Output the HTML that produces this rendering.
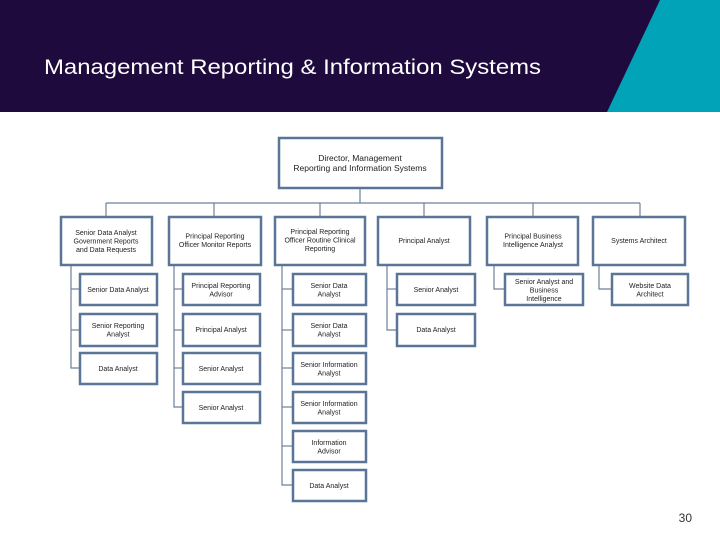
<!DOCTYPE html>
<html><head><meta charset="utf-8"><style>
html,body{margin:0;padding:0;background:#fff}
svg{display:block}
text{font-family:"Liberation Sans",sans-serif;fill:#222}
</style></head><body>
<svg width="720" height="540" viewBox="0 0 720 540" xmlns="http://www.w3.org/2000/svg">
<rect x="0" y="0" width="720" height="112" fill="#1e0a3c"/>
<polygon points="660,0 720,0 720,112 607,112" fill="#00a3b8"/>
<text x="44" y="74" font-size="21" textLength="497" lengthAdjust="spacingAndGlyphs" style="fill:#fff">Management Reporting &amp; Information Systems</text>
<text x="692" y="522" font-size="12" text-anchor="end" style="fill:#333">30</text>

<g stroke="#6d8199" stroke-width="1.2" fill="none">
<line x1="360" y1="188" x2="360" y2="203"/>
<line x1="106" y1="203" x2="640" y2="203"/>
<line x1="106" y1="203" x2="106" y2="216"/>
<line x1="214" y1="203" x2="214" y2="216"/>
<line x1="320" y1="203" x2="320" y2="216"/>
<line x1="424" y1="203" x2="424" y2="216"/>
<line x1="533" y1="203" x2="533" y2="216"/>
<line x1="640" y1="203" x2="640" y2="216"/>
<polyline points="71,265 71,368 79,368"/><line x1="71" y1="289" x2="79" y2="289"/><line x1="71" y1="330" x2="79" y2="330"/>
<polyline points="174,265 174,407 183,407"/><line x1="174" y1="289" x2="183" y2="289"/><line x1="174" y1="330" x2="183" y2="330"/><line x1="174" y1="368" x2="183" y2="368"/>
<polyline points="282,265 282,485 292,485"/><line x1="282" y1="289" x2="292" y2="289"/><line x1="282" y1="330" x2="292" y2="330"/><line x1="282" y1="368" x2="292" y2="368"/><line x1="282" y1="407" x2="292" y2="407"/><line x1="282" y1="446" x2="292" y2="446"/>
<polyline points="387,265 387,330 397,330"/><line x1="387" y1="289" x2="397" y2="289"/>
<polyline points="494,265 494,289 505,289"/>
<polyline points="599,265 599,289 612,289"/>
</g>

<g stroke="#5b7596" stroke-width="2.5" fill="#fff">
<rect x="279" y="138" width="163" height="50"/>
<rect x="61" y="217" width="91" height="48"/>
<rect x="169" y="217" width="92" height="48"/>
<rect x="275" y="217" width="90" height="48"/>
<rect x="378" y="217" width="92" height="48"/>
<rect x="487" y="217" width="91" height="48"/>
<rect x="593" y="217" width="92" height="48"/>

<rect x="80" y="274" width="77" height="31"/>
<rect x="80" y="314" width="77" height="32"/>
<rect x="80" y="353" width="77" height="31"/>

<rect x="183" y="274" width="77" height="31"/>
<rect x="183" y="314" width="77" height="32"/>
<rect x="183" y="353" width="77" height="31"/>
<rect x="183" y="392" width="77" height="31"/>

<rect x="293" y="274" width="73" height="31"/>
<rect x="293" y="314" width="73" height="32"/>
<rect x="293" y="353" width="73" height="31"/>
<rect x="293" y="392" width="73" height="31"/>
<rect x="293" y="431" width="73" height="31"/>
<rect x="293" y="470" width="73" height="31"/>

<rect x="397" y="274" width="78" height="31"/>
<rect x="397" y="314" width="78" height="32"/>

<rect x="505" y="274" width="78" height="31"/>
<rect x="612" y="274" width="76" height="31"/>
</g>

<g font-size="7" text-anchor="middle">
<text x="360" y="161" font-size="8.5">Director, Management</text>
<text x="360" y="171" font-size="8.5">Reporting and Information Systems</text>

<text x="106" y="235">Senior Data Analyst</text>
<text x="106" y="243.5">Government Reports</text>
<text x="106" y="252">and Data Requests</text>

<text x="215" y="238.5">Principal Reporting</text>
<text x="215" y="247">Officer Monitor Reports</text>

<text x="320" y="234">Principal Reporting</text>
<text x="320" y="242.5">Officer Routine Clinical</text>
<text x="320" y="251">Reporting</text>

<text x="424" y="243">Principal Analyst</text>

<text x="533" y="238.5">Principal Business</text>
<text x="533" y="247">Intelligence Analyst</text>

<text x="639" y="243">Systems Architect</text>

<text x="118" y="292">Senior Data Analyst</text>
<text x="118" y="328">Senior Reporting</text>
<text x="118" y="336.5">Analyst</text>
<text x="118" y="371">Data Analyst</text>

<text x="221" y="288">Principal Reporting</text>
<text x="221" y="296.5">Advisor</text>
<text x="221" y="332">Principal Analyst</text>
<text x="221" y="371">Senior Analyst</text>
<text x="221" y="410">Senior Analyst</text>

<text x="329" y="288">Senior Data</text>
<text x="329" y="296.5">Analyst</text>
<text x="329" y="328">Senior Data</text>
<text x="329" y="336.5">Analyst</text>
<text x="329" y="367">Senior Information</text>
<text x="329" y="375.5">Analyst</text>
<text x="329" y="406">Senior Information</text>
<text x="329" y="414.5">Analyst</text>
<text x="329" y="445">Information</text>
<text x="329" y="453.5">Advisor</text>
<text x="329" y="488">Data Analyst</text>

<text x="436" y="292">Senior Analyst</text>
<text x="436" y="332">Data Analyst</text>

<text x="544" y="284">Senior Analyst and</text>
<text x="544" y="292.5">Business</text>
<text x="544" y="301">Intelligence</text>

<text x="650" y="288">Website Data</text>
<text x="650" y="296.5">Architect</text>
</g>
</svg>
</body></html>
